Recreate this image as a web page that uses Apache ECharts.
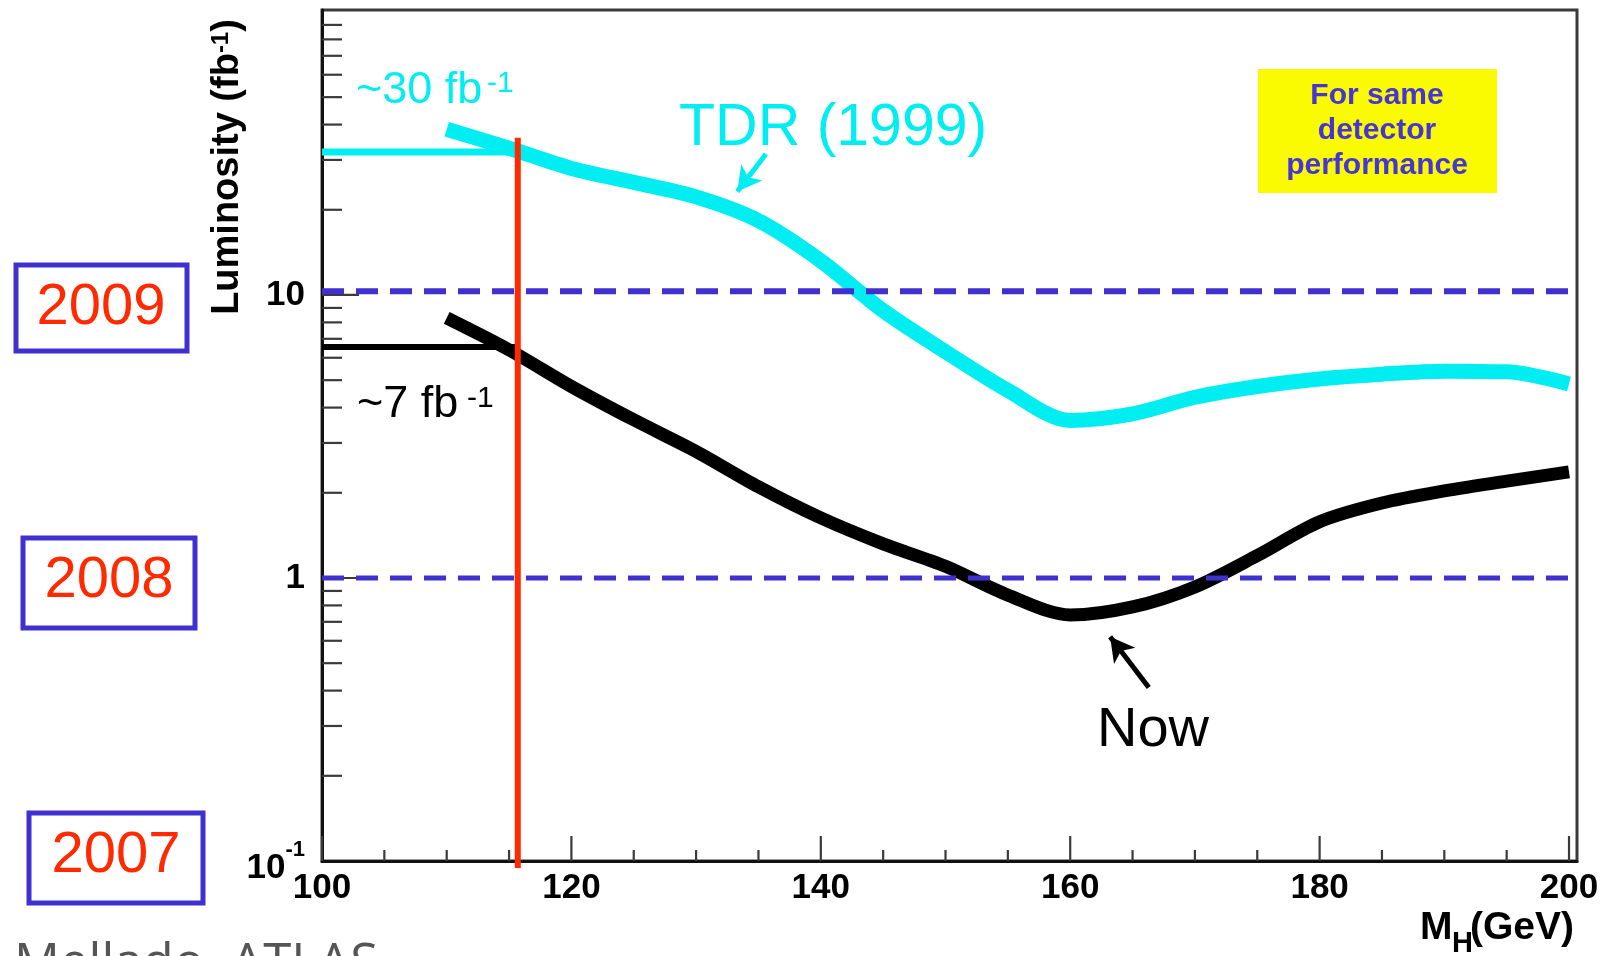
<!DOCTYPE html>
<html><head><meta charset="utf-8">
<script src="https://cdn.jsdelivr.net/npm/echarts@6/dist/echarts.min.js"></script>
<style>html,body{margin:0;padding:0;background:#fff}#c{width:1608px;height:956px}</style>
</head><body><div id="c"></div>
<script>
// ---- data ----
const massGeV  = [110, 115, 120, 125, 130, 135, 140, 145, 150, 155, 160, 165, 170, 175, 180, 185, 190, 195, 200];
const tdr1999  = [38.5, 33, 28, 25, 22.2, 18.3, 13.2, 8.8, 6.3, 4.6, 3.6, 3.8, 4.35, 4.75, 5.05, 5.25, 5.38, 5.35, 4.85];
const nowLumi  = [8.3, 6.4, 4.75, 3.62, 2.8, 2.1, 1.63, 1.32, 1.1, 0.87, 0.74, 0.79, 0.93, 1.2, 1.58, 1.84, 2.03, 2.2, 2.37];
const xTickLabels = [100, 120, 140, 160, 180, 200];
const xMinorTicks = [105,110,115,125,130,135,145,150,155,165,170,175,185,190,195];
const yTickLabels = [0.1, 1, 10];
const yMinorTicks = [0.2,0.3,0.4,0.5,0.6,0.7,0.8,0.9,2,3,4,5,6,7,8,9,20,30,40,50,60,70,80,90];
const yMajorTicks = [1, 10];
const lumi30 = 32;          // "~30 fb-1" level
const lumi7 = 6.55;         // "~7 fb-1" level
const lepLimit = 115.7;     // vertical red line (GeV)
const redLineSpan = [0.0945, 35.9];
const yearLevels = [10.3, 1];
const X_MIN = 100, X_MAX = 200.64, Y_MIN = 0.1, Y_MAX = 101.6;

const FONT = 'Liberation Sans, Arial, sans-serif';
const CYAN = '#00eef2';
const BLUE = '#4030d0';
const RED = '#ff2a00';

const chart = echarts.init(document.getElementById('c'), null, {renderer: 'canvas'});

function near(a, b) { return Math.abs(a - b) < 1e-6 * Math.max(1, Math.abs(b)); }

function tickSeries(values, axis, len) {
  return {
    type: 'custom', silent: true, z: 1,
    data: values.map(v => axis === 'y' ? [X_MIN, v] : [v, Y_MIN]),
    encode: {x: 0, y: 1},
    renderItem: function (params, api) {
      const p = api.coord([api.value(0), api.value(1)]);
      const shape = axis === 'y'
        ? {x1: p[0], y1: p[1], x2: p[0] + len, y2: p[1]}
        : {x1: p[0], y1: p[1], x2: p[0], y2: p[1] - len};
      return {type: 'line', shape: shape, style: {stroke: '#3a3a3a', lineWidth: 2.2}};
    }
  };
}

const option = {
  animation: false,
  backgroundColor: '#ffffff',
  grid: {left: 322, top: 10, right: 31, bottom: 95, show: true, borderColor: '#3a3a3a', borderWidth: 3, backgroundColor: 'transparent'},
  xAxis: {
    type: 'value', min: X_MIN, max: X_MAX, interval: 20,
    axisLine: {show: true, lineStyle: {color: '#111', width: 3}},
    axisTick: {show: false},
    splitLine: {show: false},
    axisLabel: {
      margin: 10, fontSize: 35, fontWeight: 'bold', fontFamily: FONT, color: '#000',
      formatter: v => xTickLabels.some(t => near(v, t)) ? String(v) : ''
    }
  },
  yAxis: {
    type: 'log', logBase: 10, min: Y_MIN, max: Y_MAX,
    axisLine: {show: true, lineStyle: {color: '#111', width: 3}},
    axisTick: {show: false},
    splitLine: {show: false},
    axisLabel: {
      margin: 17, fontSize: 35, fontWeight: 'bold', fontFamily: FONT, color: '#000',
      formatter: function (v) {
        if (near(v, yTickLabels[0])) return '{c|10}{s|-1}';
        if (near(v, yTickLabels[1])) return '{b|1}';
        if (near(v, yTickLabels[2])) return '{b|10}';
        return '';
      },
      rich: {
        b: {fontSize: 35, fontWeight: 'bold', fontFamily: FONT, color: '#000', lineHeight: 44},
        c: {fontSize: 35, fontWeight: 'bold', fontFamily: FONT, color: '#000', lineHeight: 44, padding: [14, 0, 0, 0]},
        s: {fontSize: 22, fontWeight: 'bold', fontFamily: FONT, color: '#000', lineHeight: 22, verticalAlign: 'top'}
      }
    }
  },
  series: [
    tickSeries(yMinorTicks, 'y', 20),
    tickSeries(yMajorTicks, 'y', 37),
    tickSeries(xMinorTicks, 'x', 11),
    tickSeries(xTickLabels, 'x', 25),
    {
      name: 'TDR (1999)', type: 'line', z: 3, symbol: 'none', smooth: 0.3,
      data: massGeV.map((m, i) => [m, tdr1999[i]]),
      lineStyle: {color: CYAN, width: 15, cap: 'butt'},
      markLine: {
        silent: true, symbol: ['none', 'arrow'], symbolSize: [20, 24],
        label: {show: false},
        lineStyle: {color: CYAN, width: 5, type: 'solid'},
        data: [[{coord: [135.6, 31.5]}, {coord: [133.3, 23.2]}]]
      }
    },
    {
      name: 'Now', type: 'line', z: 3, symbol: 'none', smooth: 0.3,
      data: massGeV.map((m, i) => [m, nowLumi[i]]),
      lineStyle: {color: '#000', width: 13, cap: 'butt'},
      markLine: {
        silent: true, symbol: ['none', 'arrow'], symbolSize: [20, 24],
        label: {show: false},
        lineStyle: {color: '#000', width: 5, type: 'solid'},
        data: [[{coord: [166.3, 0.41]}, {coord: [163.2, 0.62]}]]
      }
    },
    {
      name: '~30', type: 'line', z: 3, symbol: 'none',
      data: [[X_MIN, lumi30], [lepLimit, lumi30]],
      lineStyle: {color: CYAN, width: 7}
    },
    {
      name: '~7', type: 'line', z: 3, symbol: 'none',
      data: [[X_MIN, lumi7], [lepLimit - 0.1, lumi7]],
      lineStyle: {color: '#000', width: 6}
    },
    {
      name: 'level10', type: 'line', z: 4, symbol: 'none',
      data: [[X_MIN, yearLevels[0]], [X_MAX, yearLevels[0]]],
      lineStyle: {color: BLUE, width: 6, type: [22, 12], cap: 'butt'}
    },
    {
      name: 'level1', type: 'line', z: 4, symbol: 'none',
      data: [[X_MIN, yearLevels[1]], [X_MAX, yearLevels[1]]],
      lineStyle: {color: BLUE, width: 5, type: [22, 12], cap: 'butt'}
    },
    {
      name: 'limit', type: 'line', z: 5, symbol: 'none', clip: false,
      data: [[lepLimit, redLineSpan[0]], [lepLimit, redLineSpan[1]]],
      lineStyle: {color: RED, width: 6}
    }
  ],
  graphic: [
    // y axis title
    {type: 'text', x: 228, y: 167, rotation: Math.PI / 2, z: 10,
     style: {text: 'Luminosity (fb{s|-1})', font: 'bold 38px ' + FONT, fill: '#000', align: 'center', verticalAlign: 'middle',
       rich: {s: {fontSize: 24, fontWeight: 'bold', fontFamily: FONT, fill: '#000', verticalAlign: 'top', lineHeight: 22}}}},
    // x axis title  M_H(GeV)
    {type: 'text', x: 1420, y: 928, z: 10, style: {text: 'M', font: 'bold 39px ' + FONT, fill: '#000', align: 'left', verticalAlign: 'middle'}},
    {type: 'text', x: 1452, y: 944, z: 10, style: {text: 'H', font: 'bold 29px ' + FONT, fill: '#000', align: 'left', verticalAlign: 'middle'}},
    {type: 'text', x: 1574, y: 928, z: 10, style: {text: '(GeV)', font: 'bold 39px ' + FONT, fill: '#000', align: 'right', verticalAlign: 'middle'}},
    // curve annotations
    {type: 'text', x: 356, y: 91, z: 10, style: {text: '~30 fb', font: '45px ' + FONT, fill: CYAN, verticalAlign: 'middle'}},
    {type: 'text', x: 487, y: 84, z: 10, style: {text: '-1', font: '30px ' + FONT, fill: CYAN, verticalAlign: 'middle'}},
    {type: 'text', x: 357, y: 405, z: 10, style: {text: '~7 fb', font: '45px ' + FONT, fill: '#000', verticalAlign: 'middle'}},
    {type: 'text', x: 467, y: 399, z: 10, style: {text: '-1', font: '30px ' + FONT, fill: '#000', verticalAlign: 'middle'}},
    {type: 'text', x: 679, y: 129, z: 10, style: {text: 'TDR (1999)', font: '59px ' + FONT, fill: CYAN, verticalAlign: 'middle'}},
    {type: 'text', x: 1097, y: 731, z: 10, style: {text: 'Now', font: '56px ' + FONT, fill: '#000', verticalAlign: 'middle'}},
    // yellow note
    {type: 'rect', z: 9, shape: {x: 1258, y: 69, width: 239, height: 124}, style: {fill: '#fafa00'}},
    {type: 'text', x: 1377, y: 131, z: 10, style: {text: 'For same\ndetector\nperformance', font: 'bold 30px ' + FONT, fill: '#4535d8', align: 'center', verticalAlign: 'middle', lineHeight: 35}},
    // year boxes
    {type: 'rect', z: 9, shape: {x: 16, y: 265, width: 171, height: 86}, style: {fill: '#fff', stroke: BLUE, lineWidth: 5}},
    {type: 'text', x: 101, y: 308, z: 10, style: {text: '2009', font: '58px ' + FONT, fill: RED, align: 'center', verticalAlign: 'middle'}},
    {type: 'rect', z: 9, shape: {x: 23, y: 538, width: 172, height: 90}, style: {fill: '#fff', stroke: BLUE, lineWidth: 5}},
    {type: 'text', x: 109, y: 581, z: 10, style: {text: '2008', font: '58px ' + FONT, fill: RED, align: 'center', verticalAlign: 'middle'}},
    {type: 'rect', z: 9, shape: {x: 29, y: 813, width: 174, height: 90}, style: {fill: '#fff', stroke: BLUE, lineWidth: 5}},
    {type: 'text', x: 116, y: 856, z: 10, style: {text: '2007', font: '58px ' + FONT, fill: RED, align: 'center', verticalAlign: 'middle'}},
    // footer (cut by page edge)
    {type: 'text', x: 14, y: 940, z: 10, style: {text: 'Mellado, ATLAS', font: '51px "Open Sans", ' + FONT, fill: '#555', verticalAlign: 'top'}}
  ]
};
chart.setOption(option);
</script></body></html>
